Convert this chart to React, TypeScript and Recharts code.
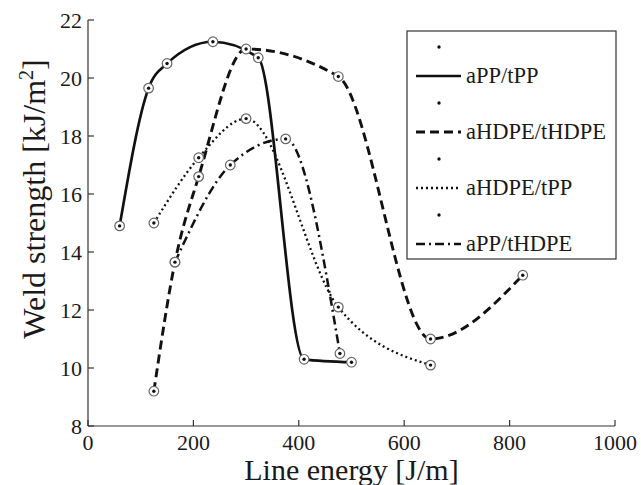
import { Line, LineChart, XAxis, YAxis } from 'recharts';

const xTicks = [0, 200, 400, 600, 800, 1000];
const yTicks = [8, 10, 12, 14, 16, 18, 20, 22];

const appTppEnergy = [60, 115, 150, 237, 323, 410, 500];
const appTppStrength = [14.9, 19.65, 20.5, 21.25, 20.7, 10.3, 10.2];

const ahdpeThdpeEnergy = [125, 165, 210, 300, 475, 650, 825];
const ahdpeThdpeStrength = [9.2, 13.65, 16.6, 21.0, 20.05, 11.0, 13.2];

const ahdpeTppEnergy = [125, 210, 300, 475, 650];
const ahdpeTppStrength = [15.0, 17.25, 18.6, 12.1, 10.1];

const appThdpeEnergy = [165, 270, 375, 478];
const appThdpeStrength = [13.65, 17.0, 17.9, 10.5];

const FONT = '"Liberation Serif", "Times New Roman", serif';
const AXIS = '#333';
const TEXT = '#1a1a1a';

type Pt = { x: number; y: number };

function zip(xs: number[], ys: number[]): Pt[] {
  return xs.map((x, i) => ({ x, y: ys[i] }));
}

const series = [
  { name: 'aPP/tPP', data: zip(appTppEnergy, appTppStrength), dash: undefined, width: 2.7 },
  { name: 'aHDPE/tHDPE', data: zip(ahdpeThdpeEnergy, ahdpeThdpeStrength), dash: '9 5', width: 2.9 },
  { name: 'aHDPE/tPP', data: zip(ahdpeTppEnergy, ahdpeTppStrength), dash: '2 3', width: 2.3 },
  { name: 'aPP/tHDPE', data: zip(appThdpeEnergy, appThdpeStrength), dash: '9 4 2 4', width: 2.5 },
];

function CircleDot(props: any) {
  const { cx, cy, index } = props;
  if (cx == null || cy == null) return null;
  return (
    <g key={index}>
      <circle cx={cx} cy={cy} r={4.8} fill="#fff" stroke="#666" strokeWidth={1.2} />
      <circle cx={cx} cy={cy} r={1.7} fill="#111" />
    </g>
  );
}

function BottomTick({ x, y, payload }: any) {
  return (
    <g>
      <line x1={x} x2={x} y1={y} y2={y - 6} stroke={AXIS} strokeWidth={1.2} />
      <text x={x} y={y + 24} textAnchor="middle" fontFamily={FONT} fontSize={22} fill={TEXT}>
        {payload.value}
      </text>
    </g>
  );
}

function TopTick({ x, y }: any) {
  return <line x1={x} x2={x} y1={y} y2={y + 6} stroke={AXIS} strokeWidth={1.2} />;
}

function LeftTick({ x, y, payload }: any) {
  return (
    <g>
      <line x1={x} x2={x + 6} y1={y} y2={y} stroke={AXIS} strokeWidth={1.2} />
      <text x={x - 6} y={y + 7.5} textAnchor="end" fontFamily={FONT} fontSize={22} fill={TEXT}>
        {payload.value}
      </text>
    </g>
  );
}

function RightTick({ x, y }: any) {
  return <line x1={x} x2={x - 6} y1={y} y2={y} stroke={AXIS} strokeWidth={1.2} />;
}

function XLabel({ viewBox }: any) {
  const cx = viewBox.x + viewBox.width / 2;
  return (
    <text x={cx} y={viewBox.y + 54} textAnchor="middle" fontFamily={FONT} fontSize={30} fill={TEXT}>
      Line energy [J/m]
    </text>
  );
}

function YLabel({ viewBox }: any) {
  const x = viewBox.x + 37;
  const y = viewBox.y + viewBox.height / 2 - 24;
  return (
    <text
      x={x}
      y={y}
      transform={`rotate(-90 ${x} ${y})`}
      textAnchor="middle"
      fontFamily={FONT}
      fontSize={32}
      fill={TEXT}
    >
      <tspan>Weld strength [kJ/m</tspan>
      <tspan dy={-12} fontSize={20}>
        2
      </tspan>
      <tspan dy={12}>]</tspan>
    </text>
  );
}

function LegendBox() {
  const left = 407;
  const top = 31;
  const rowGap = 56;
  return (
    <svg
      width={641}
      height={485}
      style={{ position: 'absolute', left: 0, top: 0, pointerEvents: 'none' }}
    >
      <rect x={left} y={top} width={209} height={228} fill="#fff" stroke={AXIS} strokeWidth={1.2} />
      {series.map((s, i) => {
        const dotY = top + 16 + i * rowGap;
        const lineY = dotY + 29;
        return (
          <g key={s.name}>
            <circle cx={439} cy={dotY} r={1.7} fill="#111" />
            <line
              x1={416}
              x2={461}
              y1={lineY}
              y2={lineY}
              stroke="#111"
              strokeWidth={s.width}
              strokeDasharray={s.dash}
            />
            <text x={466} y={lineY + 7} fontFamily={FONT} fontSize={22.5} fill={TEXT}>
              {s.name}
            </text>
          </g>
        );
      })}
    </svg>
  );
}

export default function App() {
  return (
    <div style={{ position: 'absolute', left: 0, top: 0, width: 641, height: 485, background: '#fff' }}>
      <LineChart width={641} height={485} margin={{ top: 20, right: 26, left: 8, bottom: 8 }}>
        <XAxis
          dataKey="x"
          type="number"
          domain={[0, 1000]}
          ticks={xTicks}
          allowDuplicatedCategory={false}
          height={51}
          tickSize={0}
          tickMargin={0}
          tick={<BottomTick />}
          axisLine={{ stroke: AXIS, strokeWidth: 1.2 }}
          label={<XLabel />}
        />
        <XAxis
          xAxisId="top"
          orientation="top"
          dataKey="x"
          type="number"
          domain={[0, 1000]}
          ticks={xTicks}
          height={0}
          tickSize={0}
          tickMargin={0}
          tick={<TopTick />}
          axisLine={{ stroke: AXIS, strokeWidth: 1.2 }}
        />
        <YAxis
          type="number"
          domain={[8, 22]}
          ticks={yTicks}
          width={80}
          tickSize={0}
          tickMargin={0}
          tick={<LeftTick />}
          axisLine={{ stroke: AXIS, strokeWidth: 1.2 }}
          label={<YLabel />}
        />
        <YAxis
          yAxisId="right"
          orientation="right"
          type="number"
          domain={[8, 22]}
          ticks={yTicks}
          width={0}
          tickSize={0}
          tickMargin={0}
          tick={<RightTick />}
          axisLine={{ stroke: AXIS, strokeWidth: 1.2 }}
        />
        {series.map((s) => (
          <Line
            key={s.name}
            data={s.data}
            dataKey="y"
            name={s.name}
            type="monotone"
            stroke="#111"
            strokeWidth={s.width}
            strokeDasharray={s.dash}
            dot={<CircleDot />}
            activeDot={false}
            isAnimationActive={false}
          />
        ))}
      </LineChart>
      <LegendBox />
    </div>
  );
}
